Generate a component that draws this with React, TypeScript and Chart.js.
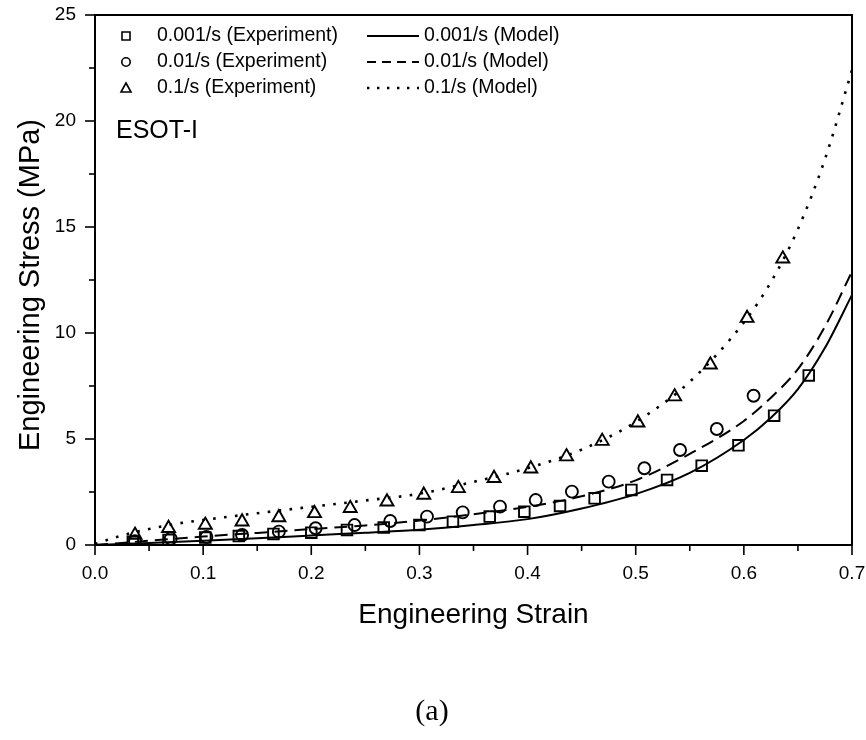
import React, { useEffect, useRef } from "react";
import { Chart, registerables } from "chart.js";

Chart.register(...registerables);

// ---------- data ----------
const rateLabels = ["0.001/s", "0.01/s", "0.1/s"];

// 0.001/s experiment (squares)
const exp001Strain = [0.035, 0.068, 0.102, 0.133, 0.165, 0.2, 0.233, 0.267, 0.3, 0.331, 0.365, 0.397, 0.43, 0.462, 0.496, 0.529, 0.561, 0.595, 0.628, 0.66];
const exp001Stress = [0.15, 0.24, 0.35, 0.42, 0.52, 0.58, 0.71, 0.83, 0.94, 1.1, 1.34, 1.57, 1.84, 2.2, 2.6, 3.07, 3.74, 4.7, 6.1, 8.0];

// 0.01/s experiment (circles)
const exp01Strain = [0.037, 0.07, 0.103, 0.136, 0.17, 0.204, 0.24, 0.273, 0.307, 0.34, 0.3745, 0.4075, 0.441, 0.475, 0.508, 0.541, 0.575, 0.609];
const exp01Stress = [0.18, 0.3, 0.38, 0.47, 0.63, 0.79, 0.94, 1.13, 1.34, 1.54, 1.81, 2.12, 2.52, 2.99, 3.62, 4.48, 5.47, 7.04];

// 0.1/s experiment (triangles)
const exp1Strain = [0.037, 0.068, 0.102, 0.136, 0.17, 0.203, 0.236, 0.27, 0.304, 0.336, 0.369, 0.403, 0.436, 0.469, 0.502, 0.536, 0.569, 0.603, 0.636];
const exp1Stress = [0.47, 0.79, 0.94, 1.1, 1.3, 1.49, 1.73, 2.04, 2.36, 2.67, 3.15, 3.6, 4.17, 4.9, 5.77, 7.0, 8.5, 10.7, 13.5];

// model curves
const model001Strain = [0, 0.05, 0.1, 0.15, 0.2, 0.25, 0.3, 0.35, 0.4, 0.45, 0.5, 0.55, 0.6, 0.625, 0.65, 0.675, 0.7];
const model001Stress = [0, 0.1, 0.2, 0.32, 0.45, 0.58, 0.72, 0.94, 1.22, 1.72, 2.4, 3.4, 4.95, 6.0, 7.35, 9.3, 11.8];

const model01Strain = [0, 0.05, 0.1, 0.15, 0.2, 0.25, 0.3, 0.35, 0.4, 0.45, 0.5, 0.55, 0.6, 0.625, 0.65, 0.675, 0.7];
const model01Stress = [0, 0.2, 0.4, 0.57, 0.75, 0.92, 1.15, 1.45, 1.8, 2.3, 3.05, 4.3, 5.85, 6.95, 8.3, 10.3, 12.9];

const model1Strain = [0, 0.025, 0.05, 0.075, 0.1, 0.15, 0.2, 0.25, 0.3, 0.35, 0.4, 0.45, 0.5, 0.55, 0.6, 0.625, 0.65, 0.675, 0.7];
const model1Stress = [0.05, 0.45, 0.75, 1.0, 1.18, 1.5, 1.8, 2.1, 2.42, 2.98, 3.62, 4.5, 5.8, 7.7, 10.5, 12.4, 14.9, 18.2, 22.4];

const xMin = 0;
const xMax = 0.7;
const xStep = 0.1;
const yMin = 0;
const yMax = 25;
const yStep = 5;

const xTitle = "Engineering Strain";
const yTitle = "Engineering Stress (MPa)";
const sampleLabel = "ESOT-I";
const panelLabel = "(a)";

const pts = (xs: number[], ys: number[]) => xs.map((x, i) => ({ x, y: ys[i] }));

const SANS = "'Liberation Sans', Arial, Helvetica, sans-serif";

const decorPlugin = {
  id: "decor",
  afterDraw(chart: any) {
    const { ctx, chartArea } = chart;
    const { left, right, top, bottom } = chartArea;
    const xs = chart.scales.x;
    const ys = chart.scales.y;
    ctx.save();
    ctx.strokeStyle = "#000";
    ctx.fillStyle = "#000";

    // frame
    ctx.lineWidth = 2;
    ctx.strokeRect(left, top, right - left, bottom - top);

    // x ticks
    ctx.lineWidth = 1.6;
    for (let i = 0; i <= Math.round((xMax - xMin) / (xStep / 2)); i++) {
      const v = xMin + (i * xStep) / 2;
      const px = xs.getPixelForValue(v);
      const len = i % 2 === 0 ? 10 : 6;
      ctx.beginPath();
      ctx.moveTo(px, bottom);
      ctx.lineTo(px, bottom + len);
      ctx.stroke();
    }
    // y ticks
    for (let i = 0; i <= Math.round((yMax - yMin) / (yStep / 2)); i++) {
      const v = yMin + (i * yStep) / 2;
      const py = ys.getPixelForValue(v);
      const len = i % 2 === 0 ? 10 : 6;
      ctx.beginPath();
      ctx.moveTo(left, py);
      ctx.lineTo(left - len, py);
      ctx.stroke();
    }

    // axis titles
    ctx.textAlign = "center";
    ctx.textBaseline = "middle";
    ctx.font = `28px ${SANS}`;
    ctx.fillText(xTitle, (left + right) / 2, 615);
    ctx.save();
    ctx.font = `29px ${SANS}`;
    ctx.translate(31, (top + bottom) / 2 + 5);
    ctx.rotate(-Math.PI / 2);
    ctx.fillText(yTitle, 0, 0);
    ctx.restore();

    // legend
    const rowsY = [36, 62, 88];
    const symX = 126;
    ctx.font = `19.5px ${SANS}`;
    ctx.textAlign = "left";
    ctx.textBaseline = "middle";
    ctx.lineWidth = 1.6;
    rowsY.forEach((ry, i) => {
      ctx.setLineDash([]);
      ctx.beginPath();
      if (i === 0) {
        ctx.rect(symX - 4, ry - 4, 8, 8);
      } else if (i === 1) {
        ctx.arc(symX, ry, 4.2, 0, Math.PI * 2);
      } else {
        ctx.moveTo(symX, ry - 5);
        ctx.lineTo(symX + 5, ry + 4);
        ctx.lineTo(symX - 5, ry + 4);
        ctx.closePath();
      }
      ctx.stroke();
      ctx.fillText(`${rateLabels[i]} (Experiment)`, 157, ry);

      ctx.lineWidth = i === 2 ? 2.4 : 2;
      if (i === 1) ctx.setLineDash([9, 6]);
      if (i === 2) ctx.setLineDash([2.4, 7.6]);
      ctx.beginPath();
      ctx.moveTo(367, ry);
      ctx.lineTo(419, ry);
      ctx.stroke();
      ctx.setLineDash([]);
      ctx.lineWidth = 1.6;
      ctx.fillText(`${rateLabels[i]} (Model)`, 424, ry);
    });

    // sample label
    ctx.font = `25px ${SANS}`;
    ctx.fillText(sampleLabel, 116, 131);

    // panel label
    ctx.font = `30px 'Liberation Serif', 'Times New Roman', serif`;
    ctx.textAlign = "center";
    ctx.fillText(panelLabel, 432, 712);
    ctx.restore();
  },
};

export default function App() {
  const ref = useRef<HTMLCanvasElement | null>(null);

  useEffect(() => {
    if (!ref.current) return;
    const hollow = "rgba(0,0,0,0)";
    const chart = new Chart(ref.current, {
      type: "scatter",
      data: {
        datasets: [
          {
            label: `${rateLabels[0]} (Model)`,
            data: pts(model001Strain, model001Stress),
            showLine: true,
            borderColor: "#000",
            borderWidth: 2,
            pointRadius: 0,
            cubicInterpolationMode: "monotone",
          },
          {
            label: `${rateLabels[1]} (Model)`,
            data: pts(model01Strain, model01Stress),
            showLine: true,
            borderColor: "#000",
            borderWidth: 2,
            borderDash: [13, 7],
            pointRadius: 0,
            cubicInterpolationMode: "monotone",
          },
          {
            label: `${rateLabels[2]} (Model)`,
            data: pts(model1Strain, model1Stress),
            showLine: true,
            borderColor: "#000",
            borderWidth: 2.6,
            borderDash: [2.6, 8.4],
            pointRadius: 0,
            cubicInterpolationMode: "monotone",
          },
          {
            label: `${rateLabels[0]} (Experiment)`,
            data: pts(exp001Strain, exp001Stress),
            pointStyle: "rect",
            pointRadius: 7.5,
            borderColor: "#000",
            backgroundColor: hollow,
            borderWidth: 1.9,
          },
          {
            label: `${rateLabels[1]} (Experiment)`,
            data: pts(exp01Strain, exp01Stress),
            pointStyle: "circle",
            pointRadius: 6,
            borderColor: "#000",
            backgroundColor: hollow,
            borderWidth: 1.9,
          },
          {
            label: `${rateLabels[2]} (Experiment)`,
            data: pts(exp1Strain, exp1Stress),
            pointStyle: "triangle",
            pointRadius: 7.5,
            borderColor: "#000",
            backgroundColor: hollow,
            borderWidth: 1.9,
          },
        ],
      },
      options: {
        animation: false,
        responsive: false,
        maintainAspectRatio: false,
        layout: { padding: { left: 0, top: 15, right: 14, bottom: 95 } },
        plugins: {
          legend: { display: false },
          tooltip: { enabled: false },
        },
        scales: {
          x: {
            type: "linear",
            min: xMin,
            max: xMax,
            grid: { display: false, drawTicks: false, tickLength: 0 },
            border: { display: false },
            ticks: {
              stepSize: xStep,
              color: "#000",
              padding: 17,
              font: { size: 19, family: SANS },
              callback: (v: any) => Number(v).toFixed(1),
            },
            afterFit: (s: any) => {
              s.height = 100;
              s.paddingLeft = 0;
              s.paddingRight = 0;
            },
          },
          y: {
            type: "linear",
            min: yMin,
            max: yMax,
            grid: { display: false, drawTicks: false, tickLength: 0 },
            border: { display: false },
            ticks: {
              stepSize: yStep,
              color: "#000",
              padding: 19,
              font: { size: 19, family: SANS },
            },
            afterFit: (s: any) => {
              s.width = 95;
              s.paddingTop = 0;
              s.paddingBottom = 0;
            },
          },
        },
      },
      plugins: [decorPlugin],
    } as any);
    return () => chart.destroy();
  }, []);

  return (
    <div style={{ position: "fixed", left: 0, top: 0, width: 866, height: 740, background: "#fff" }}>
      <canvas ref={ref} width={866} height={740} style={{ width: 866, height: 740, display: "block" }} />
    </div>
  );
}
